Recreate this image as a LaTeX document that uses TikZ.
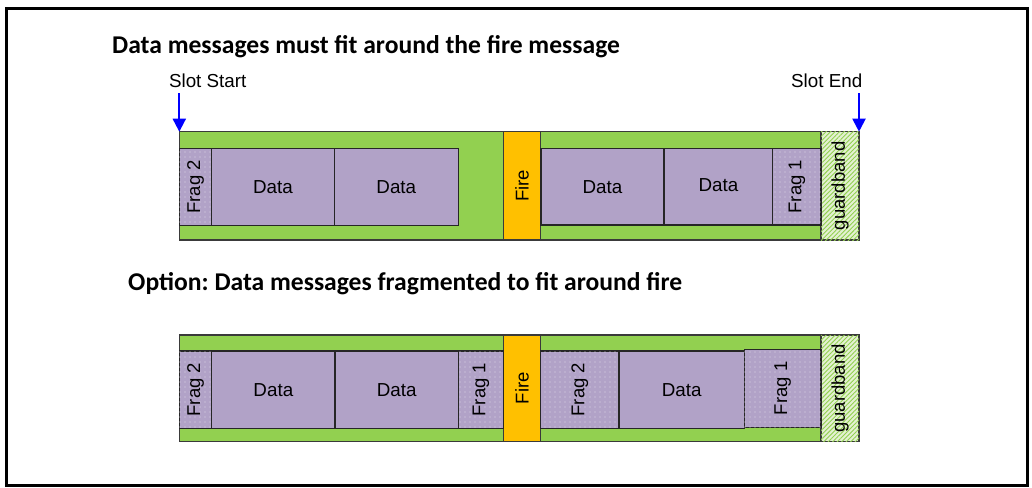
\documentclass[tikz,border=0pt]{standalone}
\usepackage{fontspec}
\setmainfont{Liberation Sans}
\newfontfamily\headfont{Carlito}
\usetikzlibrary{arrows.meta,patterns.meta}
\frenchspacing

\definecolor{bargreen}{HTML}{92D050}
\definecolor{guardgreen}{HTML}{E4F1D2}
\definecolor{msgpurple}{HTML}{B1A2C7}
\definecolor{fireorange}{HTML}{FFC000}
\definecolor{edgegray}{HTML}{3A3A3A}
\definecolor{arrowblue}{HTML}{0000FF}

% cell: style, name, text, x1, x2, y1, y2 (pixel-like units)
\newcommand{\cell}[7]{%
  \node[#1, minimum width={(#5-#4)*1pt}, minimum height={(#7-#6)*1pt}]
    (#2) at ({(#4+#5)/2},{(#6+#7)/2}) {#3};}
% same, with the text turned upright
\newcommand{\vcell}[7]{%
  \node[#1, minimum width={(#5-#4)*1pt}, minimum height={(#7-#6)*1pt},
    label={[rotate=90, font=\fontsize{18.5}{21}\selectfont, text=black]center:#3}]
    (#2) at ({(#4+#5)/2},{(#6+#7)/2}) {};}

\begin{document}
\begin{tikzpicture}[x=1pt, y=-1pt,
  cellbase/.style={draw=edgegray, line width=1.1pt, inner sep=0pt, outer sep=0pt,
    rectangle, font=\fontsize{18.8}{21}\selectfont},
  slotbar/.style={cellbase, fill=bargreen},
  firebox/.style={cellbase, fill=fireorange},
  guardbox/.style={cellbase, fill=guardgreen,
    postaction={pattern={Lines[angle=45, distance=3.2pt, line width=0.9pt]},
      pattern color=bargreen}},
  databox/.style={cellbase, draw=black!85, fill=msgpurple},
  fragbox/.style={databox,
    postaction={pattern={Dots[distance=5pt, radius=0.6pt]},
      pattern color=white!60!msgpurple}},
  slotarrow/.style={draw=arrowblue, line width=2pt,
    -{Triangle[width=13pt, length=13pt]}},
  slotlabel/.style={font=\fontsize{18.8}{21}\selectfont, inner sep=0pt},
  heading/.style={font=\headfont\bfseries\fontsize{25.6}{29}\selectfont,
    anchor=west, inner sep=0pt}
]
\useasboundingbox (0,0) rectangle (1032,487);
\draw[line width=3pt] (6.5,8.5) rectangle (1027.5,485.5);

% ---- first slot: data messages fit around the fire message ----
\node[heading] (head1) at (112,47) {Data messages must fit around the fire message};

\cell{slotbar}{ta}{}{179.3}{503.3}{131.7}{240}
\vcell{firebox}{tfire}{Fire}{503.3}{540.7}{131.7}{240}
\cell{slotbar}{tb}{}{540.7}{821}{131.7}{240}
\vcell{guardbox}{tguard}{guardband}{821}{859}{131.7}{240}

\vcell{fragbox}{tf2}{Frag 2}{179.3}{211.7}{148.3}{225.7}
\cell{databox}{td1}{Data}{211.7}{334.3}{148.3}{225.7}
\cell{databox}{td2}{Data}{334.3}{458.3}{148.3}{225.7}
\cell{databox}{td3}{Data}{541}{664}{148.3}{225}
\cell{databox}{td4}{\raisebox{2.5pt}{Data}}{664}{772.7}{148.3}{225}
\vcell{fragbox}{tf1}{Frag 1}{772.7}{821}{148.3}{225}

\node[slotlabel] (startlbl) at (207.7,81) {Slot Start};
\node[slotlabel] (endlbl) at (826.7,81) {Slot End};
\coordinate (starttail) at (179.3,93);
\coordinate (endtail) at (859,93);
\draw[slotarrow] (starttail) -- (ta.north west);
\draw[slotarrow] (endtail) -- (tguard.north east);

% ---- second slot: data messages fragmented around the fire message ----
\node[heading] (head2) at (128,284) {Option: Data messages fragmented to fit around fire};

\cell{slotbar}{ba}{}{179.3}{503.3}{335}{441.7}
\vcell{firebox}{bfire}{Fire}{503.3}{540.7}{335}{441.7}
\cell{slotbar}{bb}{}{540.7}{821}{335}{441.7}
\vcell{guardbox}{bguard}{guardband}{821}{859}{335}{441.7}

\vcell{fragbox}{bf2}{Frag 2}{179.3}{211.7}{351}{428.3}
\cell{databox}{bd1}{Data}{211.7}{335}{351}{428.3}
\cell{databox}{bd2}{Data}{335}{458.3}{351}{428.3}
\vcell{fragbox}{bf1}{Frag 1}{458.3}{503.3}{351}{428.3}
\vcell{fragbox}{bf2b}{Frag 2}{540.7}{619}{351}{428.3}
\cell{databox}{bd3}{Data}{619}{744.3}{351}{428.3}
\vcell{fragbox}{bf1b}{Frag 1}{744.3}{821}{349.3}{427.3}
\end{tikzpicture}
\end{document}
